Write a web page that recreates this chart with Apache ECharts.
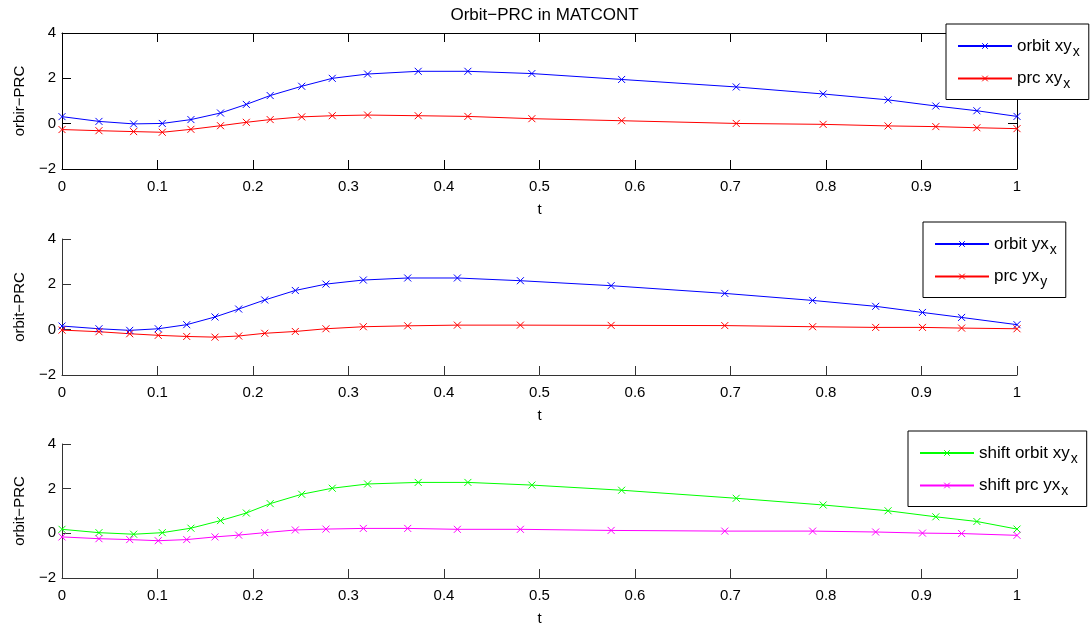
<!DOCTYPE html>
<html>
<head>
<meta charset="utf-8">
<style>html,body{margin:0;padding:0;background:#fff;}#chart{width:1090px;height:627px;}</style>
<script src="https://cdn.jsdelivr.net/npm/echarts@6/dist/echarts.min.js"></script>
</head>
<body>
<div id="chart"></div>
<script>
// ---- data ----
var tA = [0, 0.0387, 0.075, 0.105, 0.135, 0.166, 0.193, 0.218, 0.251, 0.283, 0.320, 0.373, 0.425, 0.492, 0.586, 0.706, 0.797, 0.865, 0.915, 0.958, 1.0];
var tB = [0, 0.0387, 0.0709, 0.1008, 0.1306, 0.1602, 0.185, 0.2123, 0.2443, 0.2764, 0.3155, 0.362, 0.414, 0.480, 0.575, 0.694, 0.786, 0.852, 0.901, 0.942, 1.0];
var orbitXY = [0.31, 0.10, -0.01, 0.01, 0.18, 0.47, 0.85, 1.24, 1.65, 2.00, 2.19, 2.31, 2.31, 2.21, 1.95, 1.62, 1.31, 1.05, 0.78, 0.57, 0.32];
var prcXY = [-0.26, -0.31, -0.35, -0.38, -0.25, -0.09, 0.06, 0.18, 0.30, 0.35, 0.38, 0.35, 0.32, 0.22, 0.13, 0.01, -0.03, -0.10, -0.13, -0.18, -0.22];
var orbitYX = [0.16, 0.04, -0.03, 0.04, 0.22, 0.56, 0.91, 1.31, 1.73, 2.01, 2.19, 2.28, 2.28, 2.16, 1.94, 1.60, 1.29, 1.03, 0.76, 0.54, 0.22];
var prcYX = [-0.02, -0.09, -0.18, -0.25, -0.30, -0.33, -0.28, -0.16, -0.08, 0.04, 0.13, 0.17, 0.20, 0.20, 0.19, 0.18, 0.13, 0.10, 0.10, 0.07, 0.04];
var shiftOrbitXY = [0.18, 0.03, -0.04, 0.03, 0.23, 0.57, 0.91, 1.33, 1.75, 2.02, 2.21, 2.28, 2.28, 2.16, 1.93, 1.57, 1.27, 1.01, 0.74, 0.53, 0.19];
var shiftPrcYX = [-0.16, -0.24, -0.28, -0.33, -0.28, -0.16, -0.08, 0.03, 0.15, 0.19, 0.22, 0.22, 0.18, 0.18, 0.13, 0.10, 0.10, 0.06, 0.01, -0.01, -0.09];
var xTicks = [0, 0.1, 0.2, 0.3, 0.4, 0.5, 0.6, 0.7, 0.8, 0.9, 1];
var yTicks = [-2, 0, 2, 4];
var titleText = 'Orbit\u2212PRC in MATCONT';
var yNames = ['orbir\u2212PRC', 'orbit\u2212PRC', 'orbit\u2212PRC'];
var seriesNames = ['orbit xy|x', 'prc xy|x', 'orbit yx|x', 'prc yx|y', 'shift orbit xy|x', 'shift prc yx|x'];
var colors = ['#0000ff', '#ff0000', '#0000ff', '#ff0000', '#00ff00', '#ff00ff'];

// ---- chart ----
var FONT = '"Liberation Sans", Arial, Helvetica, sans-serif';
var chart = echarts.init(document.getElementById('chart'), null, {renderer: 'canvas'});
var grids = [
  {left: 62, top: 33, width: 955, height: 136},
  {left: 62, top: 239, width: 955, height: 136},
  {left: 62, top: 444, width: 955, height: 136}
];
function pairs(t, v) { return t.map(function (x, i) { return [x, v[i]]; }); }
function fmtNum(v) { return v < 0 ? '\u2212' + Math.abs(v) : String(+v.toFixed(2)); }
var XMARK = 'path://M0,0L10,10M10,0L0,10';

var xAxes = [], yAxes = [];
grids.forEach(function (g, i) {
  var axColor = i === 0 ? '#000' : '#333';
  xAxes.push({
    type: 'value', gridIndex: i, min: 0, max: 1, interval: 0.1, position: 'bottom',
    name: 't', nameLocation: 'middle', nameGap: 33,
    nameTextStyle: {color: '#000', fontSize: 15, fontFamily: FONT},
    axisLine: {show: true, onZero: false, lineStyle: {color: axColor, width: 1}},
    axisTick: {show: true, inside: true, length: 9, lineStyle: {color: axColor}},
    axisLabel: {color: '#000', fontSize: 15, fontFamily: FONT, margin: 10, formatter: fmtNum},
    splitLine: {show: false}
  });
  yAxes.push({
    type: 'value', gridIndex: i, min: -2, max: 4, interval: 2, position: 'left',
    name: yNames[i], nameLocation: 'middle', nameGap: 35,
    nameTextStyle: {color: '#000', fontSize: 15, fontFamily: FONT},
    axisLine: {show: true, onZero: false, lineStyle: {color: axColor, width: 1}},
    axisTick: {show: true, inside: true, length: 9, lineStyle: {color: axColor}},
    axisLabel: {color: '#000', fontSize: 15, fontFamily: FONT, margin: 6, formatter: fmtNum},
    splitLine: {show: false}
  });
});
// box for the first panel: top and right axes with inward ticks
xAxes.push({
  type: 'value', gridIndex: 0, min: 0, max: 1, interval: 0.1, position: 'top',
  axisLine: {show: true, onZero: false, lineStyle: {color: '#000'}},
  axisTick: {show: true, inside: true, length: 9, lineStyle: {color: '#000'}},
  axisLabel: {show: false}, splitLine: {show: false}
});
yAxes.push({
  type: 'value', gridIndex: 0, min: -2, max: 4, interval: 2, position: 'right',
  axisLine: {show: true, onZero: false, lineStyle: {color: '#000'}},
  axisTick: {show: true, inside: true, length: 9, lineStyle: {color: '#000'}},
  axisLabel: {show: false}, splitLine: {show: false}
});

var seriesData = [pairs(tA, orbitXY), pairs(tA, prcXY), pairs(tB, orbitYX), pairs(tB, prcYX), pairs(tA, shiftOrbitXY), pairs(tB, shiftPrcYX)];
var series = seriesData.map(function (d, k) {
  var p = Math.floor(k / 2);
  return {
    type: 'line', name: seriesNames[k], xAxisIndex: p, yAxisIndex: p, data: d,
    symbol: XMARK, symbolSize: 7, showAllSymbol: true, animation: false, silent: true,
    lineStyle: {color: colors[k], width: 1},
    itemStyle: {color: colors[k], borderColor: colors[k], borderWidth: 1},
    emphasis: {disabled: true}
  };
});

function legendFmt(name) {
  var parts = name.split('|');
  return '{m|' + parts[0] + '}{s|' + parts[1] + '}';
}
var legendPos = [{left: 946, top: 24}, {left: 923, top: 222}, {left: 908, top: 431}];
var legends = legendPos.map(function (pos, i) {
  return {
    left: pos.left, top: pos.top, orient: 'vertical',
    data: [seriesNames[2 * i], seriesNames[2 * i + 1]],
    itemWidth: 54, itemHeight: 7, itemGap: 6.5,
    padding: [9, 9, 8, 11],
    backgroundColor: '#fff', borderColor: '#000', borderWidth: 1, borderRadius: 0,
    selectedMode: false,
    formatter: legendFmt,
    itemStyle: {borderWidth: 1},
    textStyle: {
      color: '#000', fontFamily: FONT,
      rich: {
        m: {fontSize: 17, fontFamily: FONT, color: '#000', lineHeight: 20, verticalAlign: 'middle'},
        s: {fontSize: 14, fontFamily: FONT, color: '#000', lineHeight: 20, verticalAlign: 'middle', padding: [12, 0, 0, 1]}
      }
    }
  };
});

chart.setOption({
  animation: false,
  backgroundColor: '#fff',
  title: {
    text: titleText, left: 539.5, top: 2, textAlign: 'center',
    textStyle: {fontSize: 17, fontWeight: 'normal', color: '#000', fontFamily: FONT}
  },
  grid: grids,
  xAxis: xAxes,
  yAxis: yAxes,
  legend: legends,
  series: series
});
</script>
</body>
</html>
